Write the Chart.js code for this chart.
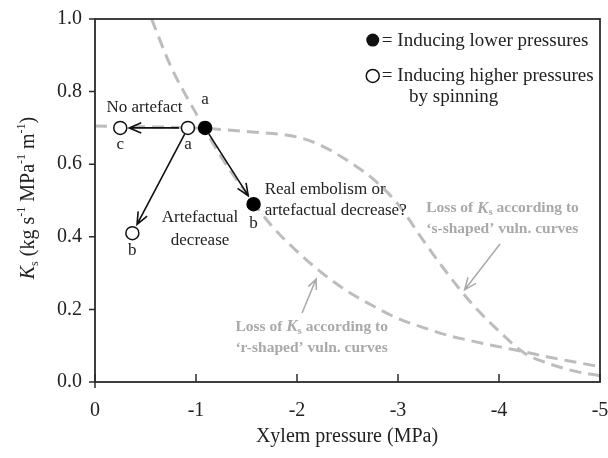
<!DOCTYPE html>
<html>
<head>
<meta charset="utf-8">
<script src="https://cdn.jsdelivr.net/npm/chart.js@4/dist/chart.umd.min.js"></script>
<style>
  html, body { margin: 0; padding: 0; background: #ffffff; }
  canvas { display: block; }
</style>
</head>
<body>
<canvas id="chart" width="608" height="458"></canvas>
<script>
// x ticks (MPa) and y ticks (Ks)
const xTickValues = [0, -1, -2, -3, -4, -5];
const yTickValues = [0, 0.2, 0.4, 0.6, 0.8, 1.0];

// 'r-shaped' vulnerability curve
const rShapedX = [-0.56, -0.75, -1.0, -1.25, -1.5, -1.75, -2.0, -2.25, -2.5, -2.75, -3.0, -3.25, -3.5, -3.75, -4.0, -4.25, -4.5, -4.75, -5.0];
const rShapedY = [1.0, 0.87, 0.74, 0.62, 0.52, 0.43, 0.36, 0.30, 0.25, 0.21, 0.175, 0.15, 0.128, 0.112, 0.097, 0.083, 0.068, 0.055, 0.042];

// 's-shaped' vulnerability curve
const sShapedX = [0, -0.5, -1.0, -1.5, -2.0, -2.25, -2.5, -2.75, -3.0, -3.25, -3.5, -3.75, -4.0, -4.25, -4.5, -4.75, -5.0];
const sShapedY = [0.705, 0.703, 0.70, 0.69, 0.675, 0.65, 0.61, 0.56, 0.49, 0.39, 0.295, 0.21, 0.14, 0.08, 0.05, 0.03, 0.017];

// measured points: a, b
const lowerX = [-1.09, -1.57];
const lowerY = [0.70, 0.49];
// measured points: a, b, c
const higherX = [-0.92, -0.37, -0.25];
const higherY = [0.70, 0.41, 0.70];

const SERIF = '"Liberation Serif", "Times New Roman", serif';
const GREY = "#a9a9a9";

const toPoints = (xs, ys) => xs.map((x, i) => ({ x: x, y: ys[i] }));

function drawRuns(ctx, x, y, runs, align) {
  let total = 0;
  runs.forEach(r => { ctx.font = r.font; r.w = ctx.measureText(r.text).width; total += r.w; });
  let cx = align === "center" ? x - total / 2 : x;
  ctx.textAlign = "left";
  ctx.textBaseline = "middle";
  runs.forEach(r => {
    ctx.font = r.font;
    ctx.fillText(r.text, cx, y + (r.dy || 0));
    cx += r.w;
  });
}

function arrow(ctx, x1, y1, x2, y2, trimStart, trimEnd, head) {
  const ang = Math.atan2(y2 - y1, x2 - x1);
  const sx = x1 + Math.cos(ang) * trimStart, sy = y1 + Math.sin(ang) * trimStart;
  const ex = x2 - Math.cos(ang) * trimEnd, ey = y2 - Math.sin(ang) * trimEnd;
  ctx.beginPath();
  ctx.moveTo(sx, sy);
  ctx.lineTo(ex, ey);
  ctx.moveTo(ex - head * Math.cos(ang - 0.4), ey - head * Math.sin(ang - 0.4));
  ctx.lineTo(ex, ey);
  ctx.lineTo(ex - head * Math.cos(ang + 0.4), ey - head * Math.sin(ang + 0.4));
  ctx.stroke();
}

const annotations = {
  id: "annotations",
  afterDatasetsDraw(chart) {
    const ctx = chart.ctx;
    const xs = chart.scales.x, ys = chart.scales.y;
    const px = v => xs.getPixelForValue(v);
    const py = v => ys.getPixelForValue(v);
    const area = chart.chartArea;
    ctx.save();

    // frame around plot area
    ctx.strokeStyle = "#2b2b2b";
    ctx.lineWidth = 1.8;
    ctx.strokeRect(area.left, area.top, area.right - area.left, area.bottom - area.top);

    // inward ticks on x axis, outward on y
    ctx.lineWidth = 1.5;
    ctx.beginPath();
    xTickValues.forEach(v => { ctx.moveTo(px(v), area.bottom); ctx.lineTo(px(v), area.bottom - 8); });
    yTickValues.forEach(v => { ctx.moveTo(area.left, py(v)); ctx.lineTo(area.left - 6, py(v)); });
    ctx.moveTo(area.left, area.bottom); ctx.lineTo(area.left, area.bottom + 6);
    ctx.stroke();

    // black arrows between points
    ctx.strokeStyle = "#111";
    ctx.lineWidth = 1.6;
    arrow(ctx, px(higherX[0]), py(higherY[0]), px(higherX[2]), py(higherY[2]), 9, 9, 13);
    arrow(ctx, px(higherX[0]), py(higherY[0]), px(higherX[1]), py(higherY[1]), 7, 10, 13);
    arrow(ctx, px(lowerX[0]), py(lowerY[0]), px(lowerX[1]), py(lowerY[1]), 7, 10, 13);

    // grey arrows to the curves
    ctx.strokeStyle = GREY;
    ctx.lineWidth = 1.5;
    arrow(ctx, px(-4.01), py(0.38), px(-3.66), py(0.254), 0, 0, 13);
    arrow(ctx, px(-2.05), py(0.19), px(-2.19), py(0.284), 0, 0, 11);

    // point letters and text labels
    ctx.fillStyle = "#222";
    const f17 = "17px " + SERIF;
    const f19 = "19px " + SERIF;
    drawRuns(ctx, px(-1.09), py(0.777), [{ text: "a", font: f17 }], "center");
    drawRuns(ctx, px(-0.92), py(0.655), [{ text: "a", font: f17 }], "center");
    drawRuns(ctx, px(-0.25), py(0.655), [{ text: "c", font: f17 }], "center");
    drawRuns(ctx, px(-0.37), py(0.362), [{ text: "b", font: f17 }], "center");
    drawRuns(ctx, px(-1.57), py(0.437), [{ text: "b", font: f17 }], "center");
    drawRuns(ctx, px(-0.49), py(0.757), [{ text: "No artefact", font: f17 }], "center");
    drawRuns(ctx, px(-1.04), py(0.452), [{ text: "Artefactual", font: f17 }], "center");
    drawRuns(ctx, px(-1.04), py(0.391), [{ text: "decrease", font: f17 }], "center");
    drawRuns(ctx, px(-1.68), py(0.529), [{ text: "Real embolism or", font: f17 }], "left");
    drawRuns(ctx, px(-1.68), py(0.471), [{ text: "artefactual decrease?", font: f17 }], "left");

    // legend
    ctx.lineWidth = 1.5;
    ctx.strokeStyle = "#111";
    ctx.fillStyle = "#111";
    ctx.beginPath(); ctx.arc(px(-2.75), py(0.942), 6.5, 0, Math.PI * 2); ctx.fill();
    ctx.fillStyle = "#fff";
    ctx.beginPath(); ctx.arc(px(-2.75), py(0.843), 6.5, 0, Math.PI * 2); ctx.fill(); ctx.stroke();
    ctx.fillStyle = "#222";
    drawRuns(ctx, px(-2.84), py(0.94), [{ text: "= Inducing lower pressures", font: f19 }], "left");
    drawRuns(ctx, px(-2.84), py(0.843), [{ text: "= Inducing higher pressures", font: f19 }], "left");
    drawRuns(ctx, px(-3.11), py(0.785), [{ text: "by spinning", font: f19 }], "left");

    // grey curve notes
    ctx.fillStyle = GREY;
    const gb = "bold 15.5px " + SERIF;
    const gbi = "italic bold 17px " + SERIF;
    const gs = "bold 11px " + SERIF;
    drawRuns(ctx, px(-3.28), py(0.479), [
      { text: "Loss of ", font: gb }, { text: "K", font: gbi }, { text: "s", font: gs, dy: 4 },
      { text: " according to", font: gb }], "left");
    drawRuns(ctx, px(-3.28), py(0.421), [{ text: "\u2018s-shaped\u2019 vuln. curves", font: gb }], "left");
    drawRuns(ctx, px(-1.39), py(0.152), [
      { text: "Loss of ", font: gb }, { text: "K", font: gbi }, { text: "s", font: gs, dy: 4 },
      { text: " according to", font: gb }], "left");
    drawRuns(ctx, px(-1.39), py(0.093), [{ text: "\u2018r-shaped\u2019 vuln. curves", font: gb }], "left");

    // axis titles
    ctx.fillStyle = "#222";
    drawRuns(ctx, 347, 437, [{ text: "Xylem pressure (MPa)", font: "20px " + SERIF }], "center");
    ctx.translate(29, 198);
    ctx.rotate(-Math.PI / 2);
    const t = "20px " + SERIF, ti = "italic 20px " + SERIF, sup = "12px " + SERIF;
    drawRuns(ctx, 0, 0, [
      { text: "K", font: ti }, { text: "s", font: sup, dy: 6 },
      { text: " (kg s", font: t }, { text: "-1", font: sup, dy: -7 },
      { text: " MPa", font: t }, { text: "-1", font: sup, dy: -7 },
      { text: " m", font: t }, { text: "-1", font: sup, dy: -7 },
      { text: ")", font: t }], "center");
    ctx.restore();
  }
};

const lineStyle = {
  type: "line",
  borderColor: "#bdbdbd",
  borderWidth: 3,
  borderDash: [12, 7],
  pointRadius: 0,
  fill: false,
  tension: 0,
  cubicInterpolationMode: "monotone"
};

function noPad(s) {
  s.paddingLeft = 0; s.paddingRight = 0; s.paddingTop = 0; s.paddingBottom = 0;
}

new Chart(document.getElementById("chart").getContext("2d"), {
  type: "scatter",
  data: {
    datasets: [
      {
        label: "Inducing lower pressures",
        data: toPoints(lowerX, lowerY),
        backgroundColor: "#000",
        borderColor: "#000",
        borderWidth: 1.5,
        pointRadius: 6.5
      },
      {
        label: "Inducing higher pressures by spinning",
        data: toPoints(higherX, higherY),
        backgroundColor: "#fff",
        borderColor: "#111",
        borderWidth: 1.5,
        pointRadius: 6.5
      },
      Object.assign({ label: "r-shaped", data: toPoints(rShapedX, rShapedY) }, lineStyle),
      Object.assign({ label: "s-shaped", data: toPoints(sShapedX, sShapedY) }, lineStyle)
    ]
  },
  options: {
    responsive: false,
    devicePixelRatio: 1,
    animation: false,
    layout: { padding: { top: 19, right: 7, left: 0, bottom: 0 } },
    plugins: {
      legend: { display: false },
      tooltip: { enabled: false }
    },
    scales: {
      x: {
        type: "linear",
        min: -5,
        max: 0,
        reverse: true,
        afterFit: s => { s.height = 76; noPad(s); },
        afterBuildTicks: s => { s.ticks = xTickValues.map(v => ({ value: v })); },
        grid: { display: false, drawTicks: false },
        border: { display: false },
        ticks: {
          padding: 17,
          maxRotation: 0,
          color: "#222",
          font: { family: SERIF, size: 20 },
          callback: v => String(v)
        }
      },
      y: {
        min: 0,
        max: 1,
        afterFit: s => { s.width = 95; noPad(s); },
        afterBuildTicks: s => { s.ticks = yTickValues.map(v => ({ value: v })); },
        grid: { display: false, drawTicks: false },
        border: { display: false },
        ticks: {
          padding: 13,
          color: "#222",
          font: { family: SERIF, size: 20 },
          callback: v => v.toFixed(1)
        }
      }
    }
  },
  plugins: [annotations]
});
</script>
</body>
</html>
